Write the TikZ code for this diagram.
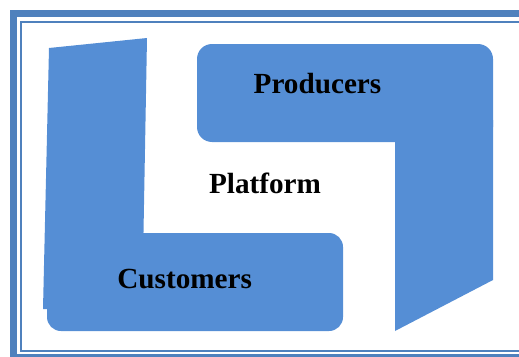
\documentclass[tikz,border=0pt]{standalone}
\usepackage{fontspec}
\setmainfont{Liberation Serif}
\definecolor{framec}{RGB}{79,129,189}
\definecolor{fillb}{RGB}{85,142,213}
\begin{document}
\begin{tikzpicture}[x=1pt,y=-1pt,
  blob/.style={fill=fillb},
  lbl/.style={font=\fontsize{29.2}{32}\selectfont\bfseries, anchor=base, inner sep=0pt}]
\useasboundingbox (0,0) rectangle (519,356);
\begin{scope}
  \clip (0,0) rectangle (519,356);
  \draw[framec, line width=7pt] (13.5,13.5) rectangle (540,357.5);
  \draw[framec, line width=2pt] (21,22) rectangle (530,351);
\end{scope}
% left / customers shape
\fill[blob] (49,48) -- (147,38) -- (143,260) -- (47,260) -- (47,309) -- (43,309) -- cycle;
\fill[blob, rounded corners=14pt] (47,233) rectangle (343,331);
% right / producers shape
\fill[blob, rounded corners=15pt] (197,44) rectangle (493,142);
\fill[blob] (395,120) -- (493,120) -- (493,280) -- (395,331) -- cycle;
% labels
\node[lbl] (prod) at (317.5,93.3) {Producers};
\node[lbl] (plat) at (265,193.3) {Platform};
\node[lbl] (cust) at (184.7,288.3) {Customers};
\end{tikzpicture}
\end{document}
